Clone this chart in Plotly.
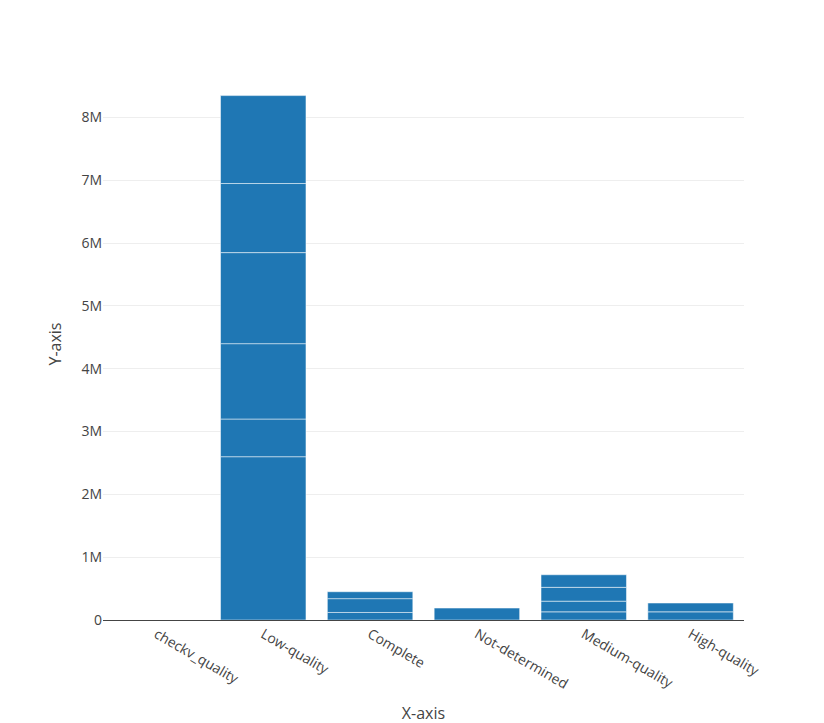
import plotly.graph_objects as go

# one row per stacked piece
categories = ["checkv_quality",
              "Low-quality", "Low-quality", "Low-quality", "Low-quality", "Low-quality", "Low-quality",
              "Complete", "Complete", "Complete",
              "Not-determined",
              "Medium-quality", "Medium-quality", "Medium-quality", "Medium-quality",
              "High-quality", "High-quality"]
values = [0,
          2.6e6, 0.6e6, 1.2e6, 1.45e6, 1.1e6, 1.4e6,
          0.12e6, 0.22e6, 0.11e6,
          0.19e6,
          0.13e6, 0.17e6, 0.22e6, 0.20e6,
          0.13e6, 0.14e6]

fig = go.Figure(go.Bar(
    x=categories,
    y=values,
    marker=dict(color="#1f77b4", line=dict(color="white", width=0.5)),
))

fig.update_layout(
    barmode="stack",
    width=824, height=723,
    margin=dict(l=95, r=88, t=60, b=108),
    plot_bgcolor="white",
    font=dict(family="Open Sans", size=12, color="#444"),
    xaxis=dict(title=dict(text="X-axis", font=dict(size=16)), tickangle=30,
               tickfont=dict(size=14), showline=True, linecolor="#444",
               categoryorder="array",
               categoryarray=["checkv_quality", "Low-quality", "Complete", "Not-determined",
                              "Medium-quality", "High-quality"]),
    yaxis=dict(title=dict(text="Y-axis", font=dict(size=16)), gridcolor="#eee",
               tickfont=dict(size=14), zeroline=False, dtick=1e6),
    showlegend=False,
)

fig.write_html("out.html")
